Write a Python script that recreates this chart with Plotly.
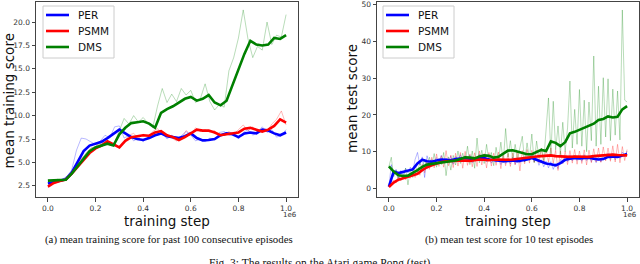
import numpy as np
import plotly.graph_objects as go

# ---------------- data (x in units of 1e6 training steps) ----------------
train_x_smooth = np.round(np.linspace(0, 1, 41), 3)
train_x_raw = np.round(np.linspace(0, 1, 51), 3)
test_x_smooth = np.round(np.linspace(0, 1, 51), 3)
test_x_raw = np.round(np.linspace(0, 1, 101), 3)

train_per_smooth = [2.75, 2.9, 3.05, 3.2, 3.9, 5.0, 6.2, 6.8, 7.0, 7.2, 7.6, 8.1, 8.5, 8.1, 7.7, 7.5,
                    7.4, 7.6, 7.9, 8.1, 7.8, 7.7, 7.6, 7.8, 8.1, 7.6, 7.35, 7.4, 7.5, 7.9, 8.1, 8.0,
                    7.7, 8.1, 8.2, 8.1, 8.5, 8.4, 8.1, 7.9, 8.2]
train_psmm_smooth = [2.4, 2.8, 3.0, 3.15, 3.8, 4.5, 5.3, 6.0, 6.5, 6.8, 7.25, 6.9, 6.6, 7.3, 7.7, 7.8,
                     7.9, 7.85, 8.2, 8.35, 7.9, 7.7, 7.4, 7.7, 8.1, 8.5, 8.4, 8.4, 8.2, 7.9, 8.0, 8.1,
                     8.2, 8.6, 8.7, 8.5, 8.3, 8.5, 8.9, 9.6, 9.25]
train_dms_smooth = [3.05, 3.1, 3.15, 3.15, 3.8, 4.6, 5.5, 6.2, 6.6, 6.8, 7.0, 6.8, 8.0, 8.7, 9.2, 9.3,
                    9.4, 9.15, 8.7, 10.3, 10.7, 11.0, 11.4, 11.8, 12.0, 11.6, 11.8, 12.2, 11.4, 11.1,
                    11.6, 13.3, 14.8, 16.6, 18.0, 17.6, 17.5, 17.6, 18.3, 18.2, 18.6]

train_per_raw = [2.7, 2.9, 3.1, 3.2, 3.5, 4.2, 6.3, 7.6, 7.5, 7.2, 6.9, 7.3, 7.9, 7.6, 8.8, 8.9, 7.6,
                 7.9, 7.3, 7.6, 7.2, 7.7, 8.1, 7.9, 8.2, 7.5, 7.9, 7.4, 7.8, 8.3, 7.9, 7.3, 7.5, 7.2,
                 7.6, 7.4, 8.2, 8.3, 7.9, 8.1, 7.5, 8.2, 8.5, 7.9, 8.3, 8.8, 8.2, 8.5, 7.7, 7.9, 8.5]
train_psmm_raw = [2.3, 2.7, 3.1, 3.0, 3.3, 3.9, 4.6, 5.4, 5.9, 6.5, 6.7, 7.2, 7.5, 6.8, 7.1, 6.5, 7.2,
                  7.9, 8.1, 7.6, 8.0, 7.7, 8.3, 8.6, 8.1, 7.8, 7.6, 7.3, 7.5, 8.4, 8.0, 8.7, 8.3, 8.5,
                  8.2, 8.4, 7.8, 8.0, 8.3, 8.0, 8.5, 9.0, 8.4, 8.8, 8.2, 8.6, 8.3, 9.1, 9.6, 10.5, 9.0]
train_dms_raw = [3.1, 3.0, 3.2, 3.1, 3.2, 3.7, 4.5, 5.3, 6.0, 6.5, 6.7, 7.0, 7.2, 6.9, 7.1, 8.4, 9.7,
                 9.1, 10.0, 9.3, 9.8, 9.2, 8.7, 11.0, 12.9, 11.4, 12.3, 11.5, 12.9, 12.2, 12.7, 11.4,
                 11.8, 13.4, 11.5, 10.6, 11.2, 10.9, 14.8, 16.2, 18.3, 21.3, 18.2, 16.2, 17.4, 17.0,
                 20.0, 17.6, 18.6, 18.4, 20.8]

test_per_smooth = [0.5, 4.6, 4.2, 4.5, 4.9, 5.2, 6.8, 7.8, 7.4, 7.3, 7.6, 7.9, 7.8, 7.7, 8.0, 8.2,
                   8.3, 8.1, 8.0, 8.2, 8.3, 7.9, 7.7, 7.6, 7.4, 7.5, 7.6, 7.4, 7.6, 7.9, 8.3, 7.8,
                   7.2, 6.8, 6.6, 6.3, 6.9, 7.8, 8.1, 8.3, 8.2, 8.3, 8.4, 8.1, 7.9, 8.0, 8.6, 8.7,
                   8.6, 9.0, 9.4]
test_psmm_smooth = [0.4, 1.6, 2.4, 2.8, 3.0, 3.4, 4.0, 5.0, 5.8, 6.3, 6.8, 7.2, 7.4, 7.5, 7.4, 7.6,
                    7.6, 7.5, 7.7, 7.9, 7.8, 7.7, 7.9, 7.8, 7.7, 7.8, 7.9, 8.1, 8.3, 8.5, 8.6, 8.7,
                    8.8, 8.9, 9.0, 8.8, 8.7, 8.5, 8.6, 8.7, 8.6, 8.5, 8.6, 8.8, 8.9, 9.0, 9.2, 9.2,
                    9.1, 9.0, 9.0]
test_dms_smooth = [6.0, 4.6, 3.6, 3.4, 3.5, 4.2, 5.0, 5.9, 6.5, 6.7, 6.9, 7.1, 7.2, 7.3, 7.6, 8.0,
                   8.5, 8.4, 8.2, 8.7, 9.0, 8.9, 8.4, 8.6, 9.4, 10.3, 10.4, 10.1, 9.8, 9.3, 9.3, 10.0,
                   10.5, 10.2, 12.8, 12.4, 11.5, 12.6, 15.0, 15.4, 16.0, 16.4, 17.0, 17.6, 18.6,
                   18.9, 19.6, 19.3, 19.5, 21.5, 22.4]

test_per_raw = [0.5, 6.5, 3.5, 5.2, 2.8, 4.9, 3.6, 5.5, 4.2, 5.8, 4.6, 7.9, 9.8, 6.4, 8.6, 3.0, 8.9,
                6.8, 7.9, 6.5, 8.4, 7.1, 9.0, 6.9, 8.3, 7.2, 8.8, 6.6, 8.7, 7.5, 9.2, 7.4, 8.9, 7.6,
                9.1, 7.0, 8.6, 7.7, 9.3, 7.4, 8.8, 7.2, 8.5, 6.9, 8.3, 7.1, 8.4, 6.5, 8.0, 6.8, 8.2,
                6.7, 8.5, 6.6, 8.1, 6.9, 8.4, 7.2, 8.8, 7.6, 9.4, 7.2, 8.5, 6.3, 7.8, 5.9, 7.4, 5.6,
                7.3, 5.2, 6.8, 5.4, 7.9, 6.8, 8.9, 7.3, 9.1, 7.5, 9.0, 7.6, 8.9, 7.4, 9.2, 7.6, 9.1,
                7.3, 8.8, 7.0, 8.6, 7.2, 8.9, 7.8, 9.6, 7.9, 9.5, 7.8, 9.4, 8.2, 9.9, 8.6, 10.2]
test_psmm_raw = [0.4, 1.2, 2.3, 1.5, 3.2, 2.1, 3.6, 2.4, 3.9, 2.8, 4.2, 3.0, 5.1, 3.6, 6.6, 4.3, 7.8,
                 5.2, 8.5, 5.6, 9.4, 6.0, 8.9, 5.8, 10.3, 6.2, 9.1, 5.7, 9.6, 6.1, 9.8, 5.5, 10.1,
                 6.3, 9.4, 5.9, 9.7, 6.0, 10.2, 6.4, 9.5, 5.6, 9.8, 6.1, 9.6, 6.3, 9.9, 5.4, 9.2,
                 6.2, 9.5, 6.0, 9.7, 6.4, 10.1, 4.8, 10.3, 6.7, 10.6, 6.9, 10.4, 7.1, 10.5, 7.0,
                 10.9, 6.8, 10.7, 7.2, 11.0, 6.9, 10.4, 4.9, 10.2, 6.8, 10.1, 6.5, 10.3, 6.9, 10.6,
                 6.6, 10.2, 6.8, 10.5, 6.4, 10.4, 7.0, 10.8, 7.2, 11.0, 7.1, 11.3, 7.5, 11.0, 7.4,
                 11.6, 7.2, 12.0, 7.0, 11.4, 7.6, 10.6]
test_dms_raw = [6.0, 8.5, 3.2, 5.0, 2.0, 4.6, 2.8, 5.5, 1.0, 5.2, 3.0, 6.4, 4.5, 7.0, 5.2, 8.0, 5.3,
                8.5, 6.0, 9.5, 5.8, 8.2, 6.5, 9.8, 3.5, 8.6, 5.0, 9.0, 6.4, 10.2, 6.8, 9.6, 7.2, 11.5,
                6.5, 10.2, 5.5, 13.7, 7.0, 10.4, 6.8, 12.0, 7.5, 9.8, 6.2, 11.2, 7.4, 12.6, 7.0,
                16.3, 8.5, 13.0, 7.8, 12.0, 8.0, 11.2, 14.2, 7.2, 12.4, 8.0, 14.8, 7.0, 12.9, 8.4,
                11.0, 7.6, 17.5, 24.6, 9.0, 23.7, 10.5, 17.0, 9.2, 18.0, 10.0, 16.5, 29.2, 11.0,
                21.5, 12.0, 26.9, 11.5, 24.0, 10.0, 23.5, 13.0, 36.0, 11.5, 27.8, 12.0, 30.1, 14.0,
                29.8, 13.0, 27.0, 14.5, 26.5, 13.2, 48.5, 24.0, 23.5]

names = ["PER", "PSMM", "DMS"]
colors = ["#0000ff", "#ff0000", "#008000"]
faint = ["rgba(0,0,255,0.28)", "rgba(255,0,0,0.28)", "rgba(0,128,0,0.28)"]

train_tick_vals = [2.5, 5.0, 7.5, 10.0, 12.5, 15.0, 17.5, 20.0]
test_tick_vals = [0, 10, 20, 30, 40, 50]
x_tick_vals = [0.0, 0.2, 0.4, 0.6, 0.8, 1.0]

# ---------------- figure ----------------
W, H = 640, 264
fig = go.Figure()

panels = [
    ("x", "y", train_x_raw, [train_per_raw, train_psmm_raw, train_dms_raw],
     train_x_smooth, [train_per_smooth, train_psmm_smooth, train_dms_smooth]),
    ("x2", "y2", test_x_raw, [test_per_raw, test_psmm_raw, test_dms_raw],
     test_x_smooth, [test_per_smooth, test_psmm_smooth, test_dms_smooth]),
]
for xa, ya, xr, raws, xs, smooths in panels:
    for i in range(3):
        fig.add_trace(go.Scatter(x=xr, y=raws[i], mode="lines", xaxis=xa, yaxis=ya,
                                 line=dict(color=faint[i], width=1), showlegend=False,
                                 hoverinfo="skip"))
    for i in range(3):
        fig.add_trace(go.Scatter(x=xs, y=smooths[i], mode="lines", xaxis=xa, yaxis=ya,
                                 name=names[i], showlegend=False,
                                 line=dict(color=colors[i], width=2.6)))

ydom = [1 - 197 / H, 1 - 1.5 / H]
tickfont = dict(family="DejaVu Sans", size=7.5, color="#333")
common_x = dict(range=[-0.05, 1.05], tickvals=x_tick_vals, tickformat=".1f", showline=True,
                mirror=True, linecolor="#444", linewidth=1, ticks="outside", ticklen=3.5,
                tickcolor="#444", showgrid=False, zeroline=False, tickfont=tickfont,
                automargin=False)
common_y = dict(showline=True, mirror=True, linecolor="#444", linewidth=1, ticks="outside",
                ticklen=3.5, tickcolor="#444", showgrid=False, zeroline=False, tickfont=tickfont,
                domain=ydom, automargin=False)

fig.update_layout(
    width=W, height=H, margin=dict(l=0, r=0, t=0, b=0, autoexpand=False),
    paper_bgcolor="white", plot_bgcolor="white", showlegend=False,
    xaxis=dict(domain=[36 / W, 298 / W], anchor="y", **common_x),
    xaxis2=dict(domain=[377 / W, 639 / W], anchor="y2", **common_x),
    yaxis=dict(anchor="x", range=[1.3, 22.2], tickvals=train_tick_vals, tickformat=".1f", **common_y),
    yaxis2=dict(anchor="x2", range=[-2.3, 50.8], tickvals=test_tick_vals, **common_y),
)

def px_x(v):
    return v / W

def px_y(v):
    return 1 - v / H

# legend boxes drawn as decoration (matplotlib-style compact legend)
leg_font = dict(family="DejaVu Sans", size=10.5, color="#111")
for left in (43, 383):
    fig.add_shape(type="rect", xref="paper", yref="paper", layer="above",
                  x0=px_x(left), x1=px_x(left + 71), y0=px_y(58), y1=px_y(6),
                  fillcolor="rgba(255,255,255,0.85)", line=dict(color="#cccccc", width=1))
    for k, nm in enumerate(names):
        yy = 15 + 16 * k
        fig.add_shape(type="line", xref="paper", yref="paper", layer="above",
                      x0=px_x(left + 3), x1=px_x(left + 26), y0=px_y(yy), y1=px_y(yy),
                      line=dict(color=colors[k], width=2.6))
        fig.add_annotation(text=nm, x=px_x(left + 33), y=px_y(yy), xref="paper", yref="paper",
                           showarrow=False, font=leg_font, xanchor="left", yanchor="middle")

lab_font = dict(family="DejaVu Sans", size=13.5, color="#111")
small_font = dict(family="DejaVu Sans", size=7, color="#333")
cap_font = dict(family="Liberation Serif", size=10.8, color="#111")

def ann(text, xpx, ypx, font, xanchor="center", yanchor="middle", angle=0):
    fig.add_annotation(text=text, x=px_x(xpx), y=px_y(ypx), xref="paper", yref="paper",
                       showarrow=False, font=font, xanchor=xanchor, yanchor=yanchor,
                       textangle=angle)

ann("mean training score", 8.5, 101, lab_font, angle=-90)
ann("mean test score", 352, 99, lab_font, angle=-90)
ann("training step", 167, 221, lab_font)
ann("training step", 508, 221, lab_font)
ann("1e6", 299, 215, small_font, xanchor="right")
ann("1e6", 639, 215, small_font, xanchor="right")
ann("(a) mean training score for past 100 consecutive episodes", 169, 239, cap_font)
ann("(b) mean test score for 10 test episodes", 509, 239, cap_font)
ann("Fig. 3: The results on the Atari game Pong (test).", 321, 255,
    dict(family="Liberation Serif", size=11.5, color="#111"), yanchor="top")

fig.write_html("out.html", config={"displayModeBar": False, "staticPlot": True},
               post_script="document.body.style.margin='0';document.body.style.overflow='hidden';")
